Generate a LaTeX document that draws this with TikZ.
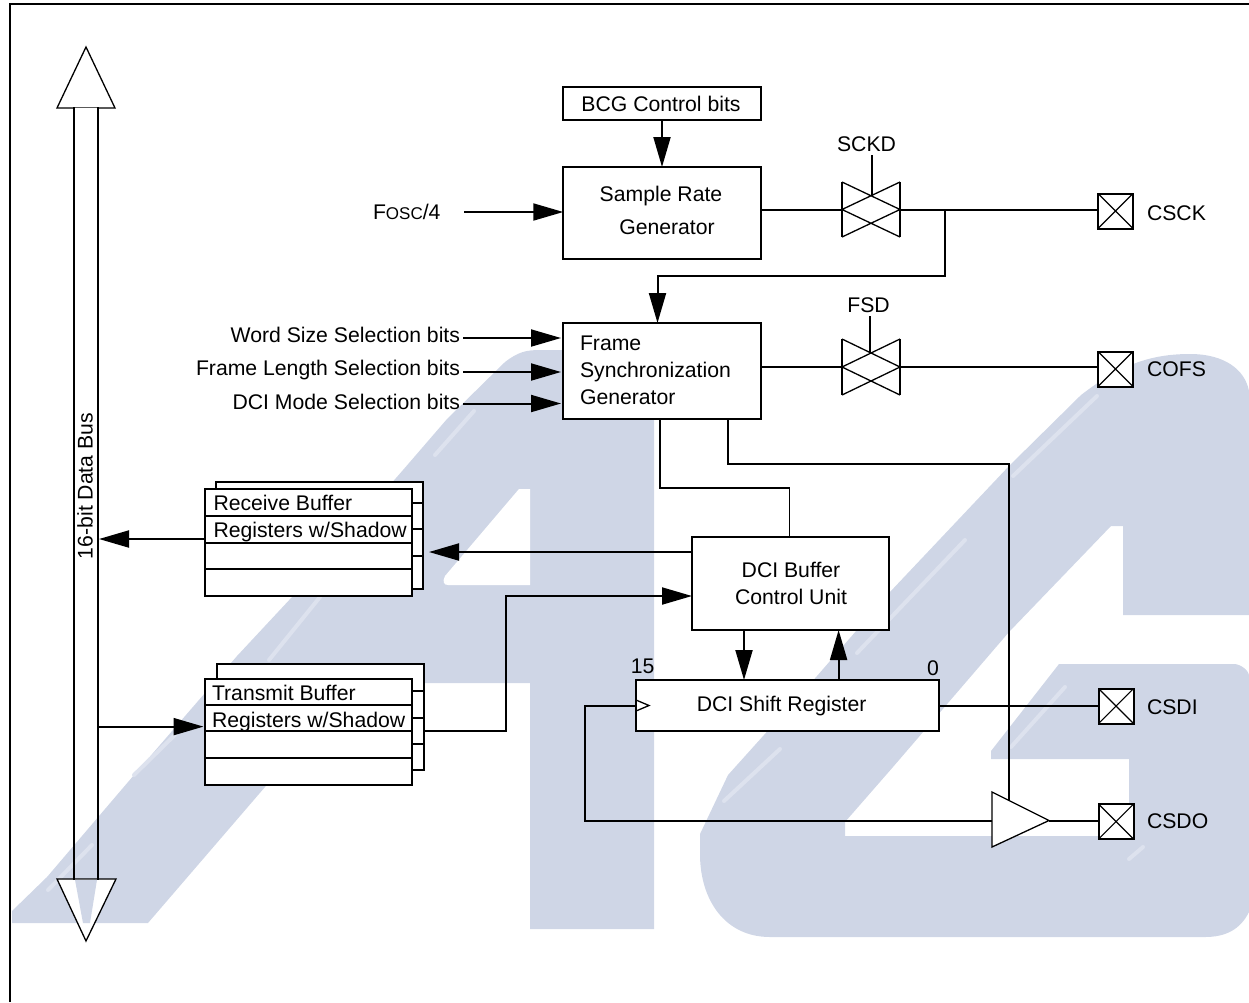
\documentclass[tikz,border=0pt]{standalone}
\usepackage{fontspec}
\setmainfont{Liberation Sans}
\usetikzlibrary{arrows.meta,calc}
\definecolor{wm}{HTML}{CFD6E6}
\definecolor{wmlight}{HTML}{DDE2EE}
\tikzset{
  every node/.style={inner sep=0pt,outer sep=0pt,font=\fontsize{21.2}{25}\selectfont},
  main/.style={line width=2pt,draw=black},
  thinl/.style={line width=1.3pt,draw=black},
  blockbox/.style={draw=black,fill=white,line width=2pt,rectangle},
  gatebox/.style={rectangle,minimum width=58pt,minimum height=55pt},
  padbox/.style={draw=black,fill=white,line width=2pt,rectangle,minimum width=35pt,minimum height=35pt,
    path picture={\draw[line width=1.1pt] (path picture bounding box.north west)--(path picture bounding box.south east)
      (path picture bounding box.north east)--(path picture bounding box.south west);}},
  lab/.style={anchor=center},
  arr/.style={main,-{Triangle[length=30pt,width=17pt,fill=black]}},
  glint/.style={line width=4pt,draw=wmlight,line cap=round},
}
\newcommand{\gatedraw}[1]{%
  \draw[thinl] (#1.north west)--(#1.south west) (#1.north east)--(#1.south east);
  \draw[thinl] (#1.north west)--(#1.east) (#1.north east)--(#1.west) (#1.west)--(#1.south east) (#1.east)--(#1.south west);
}
\begin{document}
\begin{tikzpicture}[x=1pt,y=-1pt]
\useasboundingbox (0,0) rectangle (1249,1002);
\begin{scope}
\clip (0,0) rectangle (1249,1002);
% watermark
\fill[wm] (12,911) -- (47,877) -- (134,775) -- (237,656) -- (292,597) -- (403,470) -- (447,419)
  -- (505,362) .. controls (518,352) and (526,350) .. (540,350) -- (654,350) -- (654,929) -- (530,929)
  -- (530,683) -- (353,683) -- (265,787) -- (148,923) -- (12,923) -- cycle;
\fill[white] (530,489) -- (519,489) -- (445,576) .. controls (442,582) and (444,585) .. (448,585) -- (530,585) -- cycle;
\fill[wm] (1190,354) .. controls (1225,354) and (1245,370) .. (1249,391) -- (1249,615) -- (1123,615) -- (1123,526)
  -- (1111,526) -- (1009,632) -- (893,767) -- (845,822) -- (845,836) -- (1129,836) -- (1129,759) -- (991,759)
  -- (991,751) -- (1059,664) -- (1234,664) .. controls (1240,664) and (1249,670) .. (1249,676) -- (1249,912)
  .. controls (1240,930) and (1225,937) .. (1205,937) -- (770,937) .. controls (725,937) and (700,900) .. (700,854)
  -- (700,834) -- (728,775) -- (817,676) -- (889,593) -- (1009,466) -- (1081,395) .. controls (1120,365) and (1150,354) .. (1190,354) -- cycle;
% glints
\draw[glint] (48,890) -- (92,845) (134,775) -- (188,722) (269,660) -- (320,597) (435,455) -- (474,411);
\draw[glint] (724,801) -- (780,749) (857,653) -- (965,540) (1013,476) -- (1097,396) (1011,747) -- (1065,687) (1129,859) -- (1143,847);
\end{scope}
% frame
\coordinate (fbl) at (10,1002);
\coordinate (ftl) at (10,4);
\coordinate (ftr) at (1249,4);
\draw[line width=2.4pt] (fbl) -- (ftl) -- (ftr);
% data bus
\coordinate (bt) at (86,47);
\coordinate (bb) at (86,941);
\draw[thinl,fill=white] (bt) -- (115,108) -- (57,108) -- cycle;
\draw[thinl,fill=white] (bb) -- (116,879) -- (57,879) -- cycle;
\fill[wm] (75,879.8) -- (97,879.8) -- (90,923) -- (83,923) -- cycle;
\fill[white] (74.5,108) rectangle (97.5,110);
\draw[main] (74,107) -- (74,880) (98,107) -- (98,880);
\node[rotate=90] (busl) at (85,486) {16-bit Data Bus};
% blocks
\node[blockbox,minimum width=197.5pt,minimum height=33pt] (bcg) at (662,103.5) {};
\node at (661,104) {BCG Control bits};
\node[blockbox,minimum width=197.5pt,minimum height=92pt] (srg) at (662,213) {};
\node at (661,196) {Sample Rate};
\node at (667,227) {Generator};
\node[blockbox,minimum width=197.5pt,minimum height=96pt] (fsg) at (662,371) {};
\node[anchor=west] at (580,343) {Frame};
\node[anchor=west] at (580,372) {Synchronization};
\node[anchor=west] at (580,397) {Generator};
\node[blockbox,minimum width=197pt,minimum height=93pt] (bcu) at (790.5,583.5) {};
\node at (791,570) {DCI Buffer};
\node at (791,596.5) {Control Unit};
\node[blockbox,minimum width=302.5pt,minimum height=51pt] (sr) at (787.3,705.5) {};
\node at (781.6,706.5) {DCI Shift Register};
\node at (642.7,666) {15};
\node at (933,668) {0};
% clock wedge
\coordinate (ck) at (sr.west);
\draw[thinl] (636,700) -- (649,705.5) -- (636,711);
% receive buffer
\node[blockbox,minimum width=207pt,minimum height=107.5pt] (rxb) at (319.5,535.7) {};
\node[blockbox,minimum width=207pt,minimum height=107pt] (rxf) at (308.5,542.5) {};
\draw[main] (205,516) -- (412,516) (205,543) -- (412,543) (205,569) -- (412,569);
\draw[main] (412,502.5) -- (423,502.5) (412,529) -- (423,529) (412,556) -- (423,556);
\node[anchor=west] at (213.5,503) {Receive Buffer};
\node[anchor=west] at (213.5,532) {Registers w/Shadow};
% transmit buffer
\node[blockbox,minimum width=207pt,minimum height=106pt] (txb) at (320.5,717) {};
\node[blockbox,minimum width=207pt,minimum height=106pt] (txf) at (308.5,732) {};
\draw[main] (205,705) -- (412,705) (205,731) -- (412,731) (205,758) -- (412,758);
\draw[main] (412,690.6) -- (424,690.6) (412,718) -- (424,718) (412,744) -- (424,744);
\node[anchor=west] at (212,692.6) {Transmit Buffer};
\node[anchor=west] at (212,722) {Registers w/Shadow};
% gates and pads
\node[gatebox] (g1) at (871,209.5) {};
\gatedraw{g1}
\node[gatebox,minimum height=56pt] (g2) at (871,367) {};
\gatedraw{g2}
\node[padbox] (pck) at (1115.5,211) {};
\node[padbox] (pofs) at (1115.5,369) {};
\node[padbox] (pdi) at (1116,706) {};
\node[padbox] (pdo) at (1116,821.5) {};
\node[anchor=west] at (1147,213) {CSCK};
\node[anchor=west] at (1147,369.5) {COFS};
\node[anchor=west] at (1147,707) {CSDI};
\node[anchor=west] at (1147,821) {CSDO};
\node at (866.5,144) {SCKD};
\node at (868.5,305) {FSD};
\coordinate (sckc) at (872,155);
\coordinate (fsdc) at (870,316);
\coordinate (sckm) at (872,195.8);
\coordinate (fsdm) at (870,353);
\draw[main] (sckc) -- (sckm);
\draw[main] (fsdc) -- (fsdm);
% tri-state buffer
\coordinate (ta) at (992,792);
\coordinate (tb) at (1049,820.5);
\coordinate (tc) at (992,847);
\draw[thinl,fill=white] (ta) -- (tb) -- (tc) -- cycle;
% labels on inputs
\node[anchor=west] (fosc) at (373,212) {F{\fontsize{17}{20}\selectfont OSC}/4};
\node[anchor=east] (ws) at (460,335) {Word Size Selection bits};
\node[anchor=east] (fl) at (460,370) {Frame Length Selection bits};
\node[anchor=east] (dm) at (460,402) {DCI Mode Selection bits};
% connectors
\draw[arr] (bcg.south) -- (srg.north);
\coordinate (fs) at (464,212);
\draw[arr] (fs) -- (fs -| srg.west);
\coordinate (ws0) at (463,338);
\coordinate (fl0) at (463,372);
\coordinate (dm0) at (463,403.5);
\draw[arr] (ws0) -- (561,338);
\draw[arr] (fl0) -- (561,372);
\draw[arr] (dm0) -- (561,403.5);
\draw[main] (srg.east |- 0,209.5) -- (g1.west);
\draw[main] (g1.east) -- (g1.east -| pck.west);
\coordinate (fb1) at (945,209.5);
\coordinate (fb2) at (945,276);
\coordinate (fb3) at (657.5,276);
\draw[arr] (fb1) -- (fb2) -- (fb3) -- (fb3 |- fsg.north);
\draw[main] (fsg.east |- g2.west) -- (g2.west);
\draw[main] (g2.east) -- (g2.east -| pofs.west);
\coordinate (f1) at (660,488);
\coordinate (f2) at (789.5,488);
\draw[main] (f1 |- fsg.south) -- (f1) -- (f2);
\draw[thinl] (f2) -- (f2 |- bcu.north);
\coordinate (e1) at (728,464);
\coordinate (e2) at (1009,464);
\coordinate (e3) at (1009,800.5);
\draw[main] (e1 |- fsg.south) -- (e1) -- (e2) -- (e3);
\coordinate (rb) at (429,552);
\draw[arr] (rb -| bcu.west) -- (rb);
\coordinate (rx) at (205,539);
\draw[arr] (rx) -- (99,539);
\coordinate (tx) at (98,726.6);
\draw[arr] (tx) -- (203.5,726.6);
\coordinate (t1) at (424,730.5);
\coordinate (t2) at (506,730.5);
\coordinate (t3) at (506,596);
\draw[arr] (t1) -- (t2) -- (t3) -- (t3 -| bcu.west);
\coordinate (d1) at (744,630);
\draw[arr] (d1) -- (d1 |- sr.north);
\coordinate (d2) at (838.6,680);
\draw[arr] (d2) -- (d2 |- bcu.south);
\coordinate (c1) at (585,705.5);
\coordinate (c2) at (585,820.5);
\draw[main] (c2 -| ta) -- (c2) -- (c1) -- (sr.west);
\draw[main] (sr.east) -- (sr.east -| pdi.west);
\draw[main] (tb) -- (tb -| pdo.west);
\end{tikzpicture}
\end{document}
